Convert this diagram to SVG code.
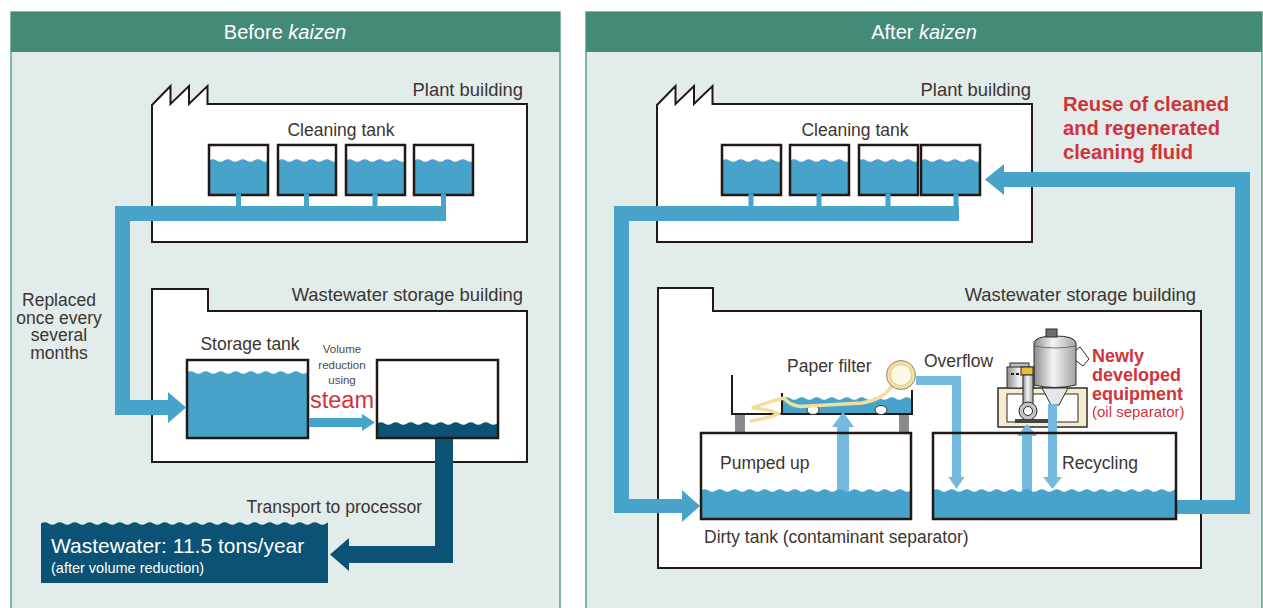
<svg xmlns="http://www.w3.org/2000/svg" width="1263" height="608" viewBox="0 0 1263 608">
<defs>
  <!-- water body with a rippled surface; tile origin follows the element's own transform -->
  <pattern id="water" width="15" height="1000" patternUnits="userSpaceOnUse">
    <path d="M0,2.5 Q3.75,0 7.5,2.5 T15,2.5 V1000 H0 Z" fill="#47A3C9"/>
  </pattern>
  <pattern id="waterDark" width="15" height="1000" patternUnits="userSpaceOnUse">
    <path d="M0,2.5 Q3.75,0 7.5,2.5 T15,2.5 V1000 H0 Z" fill="#0B5275"/>
  </pattern>
  <linearGradient id="metal" x1="0" y1="0" x2="1" y2="0">
    <stop offset="0" stop-color="#8c8c8c"/>
    <stop offset="0.45" stop-color="#f4f4f4"/>
    <stop offset="1" stop-color="#a4a4a4"/>
  </linearGradient>
</defs>
<style>
  .panel{fill:#E2ECEA;stroke:#5E9E8D;stroke-width:1.5}
  .hdr{fill:#448A78}
  .hdrtxt{font-family:"Liberation Sans",Arial,sans-serif;font-size:20px;fill:#ffffff;text-anchor:middle}
  .bld{fill:#ffffff;stroke:#231815;stroke-width:2}
  .tank{fill:none;stroke:#231815;stroke-width:2.5}
  .lbl{font-family:"Liberation Sans",Arial,sans-serif;font-size:17.5px;fill:#3C3532}
  .bname{font-size:18.4px}
  .small{font-family:"Liberation Sans",Arial,sans-serif;font-size:11.5px;fill:#4a4a4a;text-anchor:middle}
  .red{font-family:"Liberation Sans",Arial,sans-serif;fill:#D1333B}
  .pipe{fill:#47A3C9}
  .flow{fill:#74BADF}
  .dark{fill:#0B5275}
  .eq{stroke:#2b2b2b;stroke-width:1}
</style>

<!-- ===== Before panel ===== -->
<g id="panel-before">
  <rect class="panel" x="11" y="12" width="549" height="610"/>
  <rect class="hdr" x="11" y="12" width="549" height="40"/>
  <text class="hdrtxt" x="285" y="39">Before <tspan font-style="italic">kaizen</tspan></text>
</g>

<g id="plant-before">
  <path class="bld" d="M152,105 L170.5,86 V104 L189,86 V104 L207.5,86 V104 H527 V242 H152 Z"/>
  <text class="lbl bname" x="523" y="96" text-anchor="end">Plant building</text>
  <text class="lbl" x="341" y="136" text-anchor="middle">Cleaning tank</text>
</g>

<g id="cleaning-tank-b1">
  <rect fill="url(#water)" transform="translate(209,158)" width="59" height="37"/>
  <rect class="tank" x="209" y="145" width="59" height="50"/>
</g>
<g id="cleaning-tank-b2">
  <rect fill="url(#water)" transform="translate(278,158)" width="58" height="37"/>
  <rect class="tank" x="278" y="145" width="58" height="50"/>
</g>
<g id="cleaning-tank-b3">
  <rect fill="url(#water)" transform="translate(346,158)" width="59" height="37"/>
  <rect class="tank" x="346" y="145" width="59" height="50"/>
</g>
<g id="cleaning-tank-b4">
  <rect fill="url(#water)" transform="translate(414,158)" width="59" height="37"/>
  <rect class="tank" x="414" y="145" width="59" height="50"/>
</g>

<g id="wastewater-building-before">
  <path class="bld" d="M152,289 H208 V311 H527 V462 H152 Z"/>
  <text class="lbl bname" x="523" y="301" text-anchor="end">Wastewater storage building</text>
</g>

<g id="storage-tank">
  <rect fill="url(#water)" transform="translate(187,370)" width="121" height="68"/>
  <rect class="tank" x="187" y="360" width="121" height="78"/>
  <text class="lbl" x="250" y="350" text-anchor="middle" font-size="18">Storage tank</text>
</g>

<g id="reduced-tank">
  <rect fill="url(#waterDark)" transform="translate(377,421)" width="121" height="17"/>
  <rect class="tank" x="377" y="360" width="121" height="78"/>
</g>

<g id="steam-note">
  <text class="small" x="342" y="353">Volume</text>
  <text class="small" x="342" y="369">reduction</text>
  <text class="small" x="342" y="384">using</text>
  <text class="red" x="342" y="408" font-size="23.5" text-anchor="middle">steam</text>
</g>

<g id="replaced-note">
  <text class="lbl" x="59" y="306" font-size="15.5" text-anchor="middle">Replaced</text>
  <text class="lbl" x="59" y="323.5" font-size="15.5" text-anchor="middle">once every</text>
  <text class="lbl" x="59" y="341" font-size="15.5" text-anchor="middle">several</text>
  <text class="lbl" x="59" y="358.5" font-size="15.5" text-anchor="middle">months</text>
</g>

<g id="wastewater-out">
  <rect fill="url(#waterDark)" transform="translate(41,521)" width="287" height="62"/>
  <text x="51" y="553" font-family="Liberation Sans, Arial, sans-serif" font-size="21" fill="#ffffff">Wastewater: 11.5 tons/year</text>
  <text x="51" y="573" font-family="Liberation Sans, Arial, sans-serif" font-size="14.5" fill="#ffffff">(after volume reduction)</text>
</g>

<g id="connectors-before">
  <path class="pipe" d="M236,194 h5 v13 h-5z M304,194 h5 v13 h-5z M372.5,194 h5 v13 h-5z M441,194 h5 v13 h-5z"/>
  <path class="pipe" d="M446,206 V221 H130 V400 H168 V392 L186,407.5 L168,423 V415 H115 V206 Z"/>
  <path class="pipe" d="M309,418 H362 V414 L375,422.5 L362,431 V427 H309 Z"/>
  <path class="dark" d="M435,439 H453 V563 H349 V571 L330,554.5 L349,538 V546 H435 Z"/>
  <text class="lbl" x="422" y="513" text-anchor="end" font-size="18">Transport to processor</text>
</g>

<!-- ===== After panel ===== -->
<g id="panel-after">
  <rect class="panel" x="586" y="12" width="676" height="610"/>
  <rect class="hdr" x="586" y="12" width="676" height="40"/>
  <text class="hdrtxt" x="924" y="39">After <tspan font-style="italic">kaizen</tspan></text>
</g>

<g id="plant-after">
  <path class="bld" d="M657,105 L675.5,86 V104 L694,86 V104 L712.5,86 V104 H1032 V242 H657 Z"/>
  <text class="lbl bname" x="1031" y="96" text-anchor="end">Plant building</text>
  <text class="lbl" x="855" y="136" text-anchor="middle">Cleaning tank</text>
</g>

<g id="cleaning-tank-a1">
  <rect fill="url(#water)" transform="translate(722,158)" width="59" height="37"/>
  <rect class="tank" x="722" y="145" width="59" height="50"/>
</g>
<g id="cleaning-tank-a2">
  <rect fill="url(#water)" transform="translate(790,158)" width="59" height="37"/>
  <rect class="tank" x="790" y="145" width="59" height="50"/>
</g>
<g id="cleaning-tank-a3">
  <rect fill="url(#water)" transform="translate(859,158)" width="59" height="37"/>
  <rect class="tank" x="859" y="145" width="59" height="50"/>
</g>
<g id="cleaning-tank-a4">
  <rect fill="url(#water)" transform="translate(921,158)" width="59" height="37"/>
  <rect class="tank" x="921" y="145" width="59" height="50"/>
</g>

<g id="reuse-note">
  <text class="red" x="1063" y="111" font-size="20.2" font-weight="bold">Reuse of cleaned</text>
  <text class="red" x="1063" y="135" font-size="20.2" font-weight="bold">and regenerated</text>
  <text class="red" x="1063" y="159" font-size="20.2" font-weight="bold">cleaning fluid</text>
</g>

<g id="wastewater-building-after">
  <path class="bld" d="M658,288 H713 V311 H1201 V568 H658 Z"/>
  <text class="lbl bname" x="1196" y="301" text-anchor="end">Wastewater storage building</text>
  <text class="lbl" x="704" y="543">Dirty tank (contaminant separator)</text>
</g>

<g id="paper-filter">
  <rect x="735" y="415" width="10" height="17" fill="#8a8a8a"/>
  <rect x="899" y="415" width="10" height="17" fill="#8a8a8a"/>
  <rect fill="url(#water)" transform="translate(783,396)" width="128" height="18"/>
  <path d="M732,375 V414 H912 V390 M782,393 V414" fill="none" stroke="#231815" stroke-width="2"/>
  <ellipse cx="813" cy="410" rx="6" ry="4.5" fill="#ffffff" stroke="#333" stroke-width="1"/>
  <ellipse cx="881" cy="410" rx="6" ry="4.5" fill="#ffffff" stroke="#333" stroke-width="1"/>
  <path d="M893,383 Q886,399 862,403 L800,406.5 Q789,405 784,398 Q768,402 752,408 Q774,410 778,414 Q770,418 750,421" fill="none" stroke="#F5DE9B" stroke-width="3.5"/>
  <circle cx="901" cy="375" r="14.5" fill="#F5DF9E" stroke="#6b6b6b" stroke-width="0.8"/>
  <circle cx="901" cy="375" r="10.5" fill="#FEF9E6" stroke="#C9B77A" stroke-width="0.6"/>
  <text class="lbl" x="787" y="372">Paper filter</text>
</g>

<g id="oil-separator">
  <rect x="998" y="388" width="89" height="39" fill="#F7ECCF" stroke="#2b2b2b" stroke-width="1.5"/>
  <rect x="1007" y="394" width="71" height="28" fill="#ffffff" stroke="#2b2b2b" stroke-width="1"/>
  <polygon class="eq" points="1075,351 1080,347 1089,359 1083,366 1075,360" fill="#ffffff" stroke-width="1.3"/>
  <path class="eq" d="M1034,343 Q1035,336 1055,336 Q1075,336 1076,343 V385 Q1055,390 1034,385 Z" fill="url(#metal)"/>
  <path d="M1034,346 Q1055,350 1076,346" fill="none" stroke="#555" stroke-width="0.8"/>
  <rect class="eq" x="1046" y="329" width="11" height="8" fill="#6e6e6e"/>
  <polygon class="eq" points="1042,388 1068,388 1059,405 1051,405" fill="#e6e6e6"/>
  <rect class="eq" x="1010" y="363" width="19" height="5" fill="#bdbdbd"/>
  <rect class="eq" x="1007" y="367" width="27" height="21" fill="url(#metal)"/>
  <path d="M1011,374 h3 M1016,374 h3" stroke="#222" stroke-width="2"/>
  <rect class="eq" x="1021" y="367" width="12" height="8" fill="#E5BF34"/>
  <rect class="eq" x="1023" y="375" width="10" height="29" fill="url(#metal)"/>
  <circle class="eq" cx="1028" cy="411" r="9" fill="#c4c4c4" stroke-width="1.3"/>
  <circle class="eq" cx="1028" cy="411" r="4.5" fill="#ffffff"/>
  <rect x="1015" y="419" width="33" height="4" fill="#444"/>
  <text class="red" x="1092" y="362" font-size="18" font-weight="bold">Newly</text>
  <text class="red" x="1092" y="381" font-size="18" font-weight="bold">developed</text>
  <text class="red" x="1092" y="400" font-size="18" font-weight="bold">equipment</text>
  <text class="red" x="1092" y="417" font-size="15">(oil separator)</text>
</g>

<g id="connectors-after">
  <path class="pipe" d="M748.5,194 h5 v13 h-5z M816.5,194 h5 v13 h-5z M885.5,194 h5 v13 h-5z M953.5,194 h5 v13 h-5z"/>
  <path class="pipe" d="M959,206 V221 H629 V499 H682 V490 L700,506 L682,522 V513 H614 V206 Z"/>
  <path class="pipe" d="M1176,500 H1235 V187 H1004 V195 L985,179.5 L1004,164 V172 H1250 V514 H1176 Z"/>
  <path class="flow" d="M916,376 H961 V477 H964.5 L956.5,489 L948.5,477 H952 V385 H916 Z"/>
  <path class="flow" d="M837,494 V427 H832 L843,412 L854,427 H849 V494 Z"/>
  <path class="flow" d="M1022,494 V436 H1017 L1027,424 L1037,436 H1032 V494 Z"/>
  <path class="flow" d="M1048,404 H1057 V477 H1062 L1052.5,489 L1043,477 H1048 Z"/>
  <text class="lbl" x="924" y="367">Overflow</text>
</g>

<g id="dirty-tank">
  <rect fill="url(#water)" transform="translate(701,488)" width="210" height="31"/>
  <rect class="tank" x="701" y="433" width="210" height="86"/>
  <text class="lbl" x="720" y="469" font-size="18">Pumped up</text>
</g>

<g id="recycling-tank">
  <rect fill="url(#water)" transform="translate(933,488)" width="243" height="31"/>
  <rect class="tank" x="933" y="433" width="243" height="86"/>
  <text class="lbl" x="1062" y="469">Recycling</text>
</g>
</svg>
